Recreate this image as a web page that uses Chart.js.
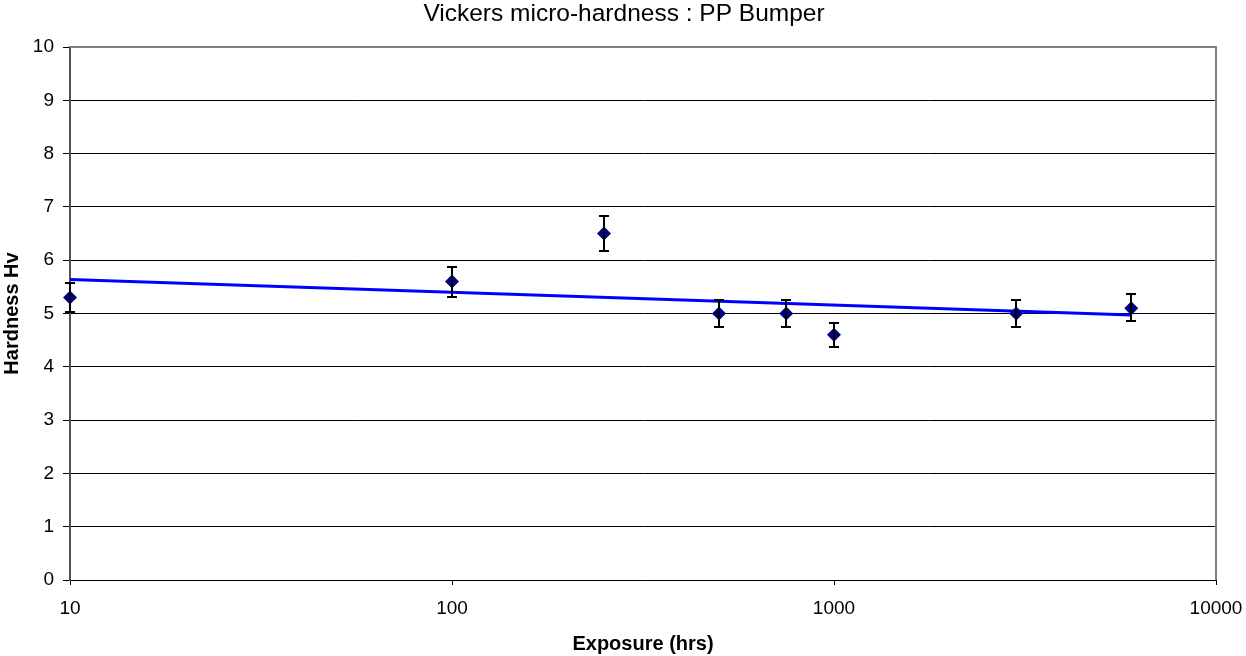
<!DOCTYPE html>
<html>
<head>
<meta charset="utf-8">
<script src="https://cdn.jsdelivr.net/npm/chart.js@4/dist/chart.umd.min.js"></script>
<style>
  html, body { margin: 0; padding: 0; background: #fff; }
</style>
</head>
<body>
<canvas id="hvChart" width="1246" height="656"></canvas>
<script>
// exposure times (hrs) and measured hardness
const exposure = [10, 100, 250, 500, 750, 1000, 3000, 6000];
const hardness = [5.3, 5.6, 6.5, 5.0, 5.0, 4.6, 5.0, 5.1];
const errPlus  = [0.27, 0.28, 0.32, 0.25, 0.25, 0.23, 0.25, 0.26];
const errMinus = [0.27, 0.29, 0.33, 0.25, 0.25, 0.22, 0.25, 0.24];
// log trend line endpoints
const trendX = [10, 6000];
const trendY = [5.64, 4.97];
const xTicks = [10, 100, 1000, 10000];
const chartTitle = 'Vickers micro-hardness : PP Bumper';

const FONT = 'Liberation Sans, Arial, sans-serif';

// title, plot frame and error bars
const extras = {
  id: 'extras',
  afterDraw(chart) {
    const { ctx } = chart;
    ctx.save();
    ctx.fillStyle = '#000';
    ctx.font = '24.5px ' + FONT;
    ctx.textAlign = 'center';
    ctx.textBaseline = 'alphabetic';
    ctx.fillText(chartTitle, 624, 21);
    ctx.restore();
  },
  afterDatasetsDraw(chart) {
    const { ctx, scales: { x, y }, chartArea } = chart;
    ctx.save();
    ctx.strokeStyle = '#808080';
    ctx.lineWidth = 2;
    ctx.beginPath();
    ctx.moveTo(chartArea.left, chartArea.top);
    ctx.lineTo(chartArea.right, chartArea.top);
    ctx.lineTo(chartArea.right, chartArea.bottom);
    ctx.stroke();

    ctx.strokeStyle = '#000';
    ctx.lineWidth = 2;
    exposure.forEach((e, i) => {
      const px = Math.round(x.getPixelForValue(e));
      const top = Math.round(y.getPixelForValue(hardness[i] + errPlus[i]));
      const bot = Math.round(y.getPixelForValue(hardness[i] - errMinus[i]));
      ctx.beginPath();
      ctx.moveTo(px, top); ctx.lineTo(px, bot);
      ctx.moveTo(px - 5, top); ctx.lineTo(px + 5, top);
      ctx.moveTo(px - 5, bot); ctx.lineTo(px + 5, bot);
      ctx.stroke();
    });
    ctx.restore();
  }
};

new Chart(document.getElementById('hvChart').getContext('2d'), {
  type: 'scatter',
  data: {
    datasets: [
      {
        label: 'Hardness',
        data: exposure.map((e, i) => ({ x: e, y: hardness[i] })),
        pointStyle: 'rectRot',
        pointRadius: 7,
        backgroundColor: '#000080',
        borderColor: '#000080',
        borderWidth: 0,
        clip: false,
        order: 1
      },
      {
        label: 'Log trend',
        type: 'line',
        data: trendX.map((e, i) => ({ x: e, y: trendY[i] })),
        borderColor: '#0000FF',
        borderWidth: 3,
        pointRadius: 0,
        fill: false,
        order: 2
      }
    ]
  },
  options: {
    responsive: false,
    animation: false,
    layout: { padding: { left: 0, right: 30, top: 47, bottom: 0 } },
    plugins: {
      legend: { display: false },
      tooltip: { enabled: false },
      title: { display: false }
    },
    scales: {
      x: {
        type: 'logarithmic',
        min: 10,
        max: 10000,
        afterBuildTicks(scale) { scale.ticks = xTicks.map(v => ({ value: v })); },
        afterFit(scale) {
          scale.height = 76;
          scale.paddingLeft = 0;
          scale.paddingRight = 0;
        },
        ticks: {
          color: '#000',
          font: { family: FONT, size: 19 },
          padding: 12,
          maxRotation: 0,
          autoSkip: false,
          callback: v => String(v)
        },
        grid: { drawOnChartArea: false, tickLength: 5, color: '#000' },
        border: { color: '#000', width: 1 },
        title: {
          display: true,
          text: 'Exposure (hrs)',
          color: '#000',
          font: { family: FONT, size: 20, weight: 'bold' },
          padding: { top: 2, bottom: 0 }
        }
      },
      y: {
        min: 0,
        max: 10,
        afterFit(scale) { scale.width = 70; },
        ticks: {
          stepSize: 1,
          color: '#000',
          font: { family: FONT, size: 19 },
          padding: 9
        },
        grid: { color: '#000', tickLength: 7, lineWidth: 1 },
        border: { color: '#505050', width: 2 },
        title: {
          display: true,
          text: 'Hardness Hv',
          color: '#000',
          font: { family: FONT, size: 20, weight: 'bold' },
          padding: { top: 0, bottom: 0 }
        }
      }
    }
  },
  plugins: [extras]
});
</script>
</body>
</html>
